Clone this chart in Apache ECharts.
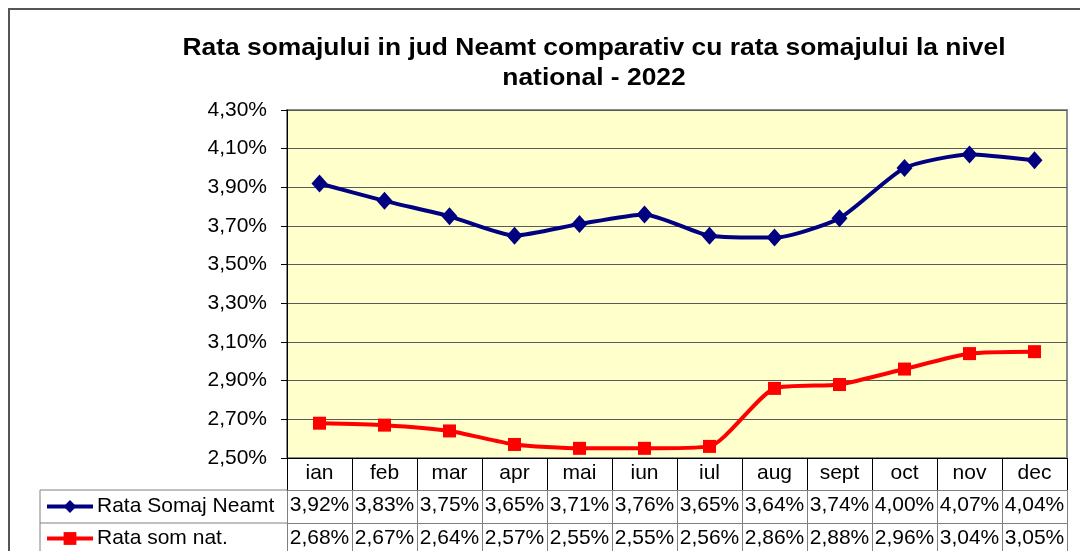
<!DOCTYPE html>
<html>
<head>
<meta charset="utf-8">
<script src="https://cdn.jsdelivr.net/npm/echarts@6/dist/echarts.min.js"></script>
<style>html,body{margin:0;padding:0;background:#fff}#c{width:1080px;height:551px}</style>
</head>
<body>
<div id="c"></div>
<script>
var months = ['ian','feb','mar','apr','mai','iun','iul','aug','sept','oct','nov','dec'];
var neamt = [3.92,3.83,3.75,3.65,3.71,3.76,3.65,3.64,3.74,4.00,4.07,4.04];
var national = [2.68,2.67,2.64,2.57,2.55,2.55,2.56,2.86,2.88,2.96,3.04,3.05];
var seriesNames = ['Rata Somaj Neamt','Rata som nat.'];
var titleText = 'Rata somajului in jud Neamt comparativ cu rata somajului la nivel\nnational - 2022';

var FONT = 'Liberation Sans, Arial, sans-serif';
function pct(v){ return v.toFixed(2).replace('.', ',') + '%'; }

var chart = echarts.init(document.getElementById('c'));
var tableLabel = {fontSize: 21, color: '#000', fontFamily: FONT, margin: 5, interval: 0, hideOverlap: false};
var legendCommon = {orient: 'horizontal', left: 45, padding: 0, itemWidth: 46, itemHeight: 16,
  lineStyle: {width: 4},
  textStyle: {fontSize: 21, color: '#000', fontFamily: FONT, padding: [0,0,0,-1]}};
chart.setOption({
  animation: false,
  backgroundColor: '#fff',
  grid: {left: 287, right: 13, top: 110, bottom: 93, show: true,
         backgroundColor: '#ffffcc', borderColor: '#8c8c8c', borderWidth: 2},
  legend: [
    Object.assign({data: [seriesNames[0]], top: 496}, legendCommon),
    Object.assign({data: [seriesNames[1]], top: 528}, legendCommon)
  ],
  graphic: [
    {type: 'rect', shape: {x: 9, y: 9, width: 1100, height: 600}, style: {fill: 'none', stroke: '#555', lineWidth: 2}, silent: true},
    {type: 'text', x: 594, y: 33, scaleX: 1.1, originX: 0, style: {text: titleText, align: 'center', verticalAlign: 'top',
      font: 'bold 24px ' + FONT, lineHeight: 30, fill: '#000'}},
    {type: 'line', shape: {x1: 40, y1: 490, x2: 287, y2: 490}, style: {stroke: '#808080', lineWidth: 1}},
    {type: 'line', shape: {x1: 40, y1: 523, x2: 287, y2: 523}, style: {stroke: '#808080', lineWidth: 1}},
    {type: 'line', shape: {x1: 40, y1: 490, x2: 40, y2: 560}, style: {stroke: '#808080', lineWidth: 1}}
  ],
  xAxis: [
    {type: 'category', data: months, position: 'bottom', boundaryGap: true,
     axisLine: {lineStyle: {color: '#000', width: 1}},
     axisTick: {show: true, length: 32, interval: 0, lineStyle: {color: '#000'}},
     axisLabel: tableLabel},
    {type: 'category', data: neamt.map(pct), position: 'bottom', offset: 32, boundaryGap: true,
     axisLine: {lineStyle: {color: '#808080', width: 1}},
     axisTick: {show: true, length: 33, interval: 0, lineStyle: {color: '#808080'}},
     axisLabel: tableLabel},
    {type: 'category', data: national.map(pct), position: 'bottom', offset: 65, boundaryGap: true,
     axisLine: {lineStyle: {color: '#808080', width: 1}},
     axisTick: {show: true, length: 40, interval: 0, lineStyle: {color: '#808080'}},
     axisLabel: tableLabel}
  ],
  yAxis: {
    type: 'value', min: 2.5, max: 4.3, interval: 0.2,
    axisLine: {show: true, lineStyle: {color: '#000', width: 1}},
    axisTick: {show: true, length: 6, lineStyle: {color: '#000'}},
    splitLine: {lineStyle: {color: '#5a5a5a', width: 1}},
    axisLabel: {fontSize: 21, color: '#000', fontFamily: FONT, margin: 20, formatter: function(v){ return pct(v); }}
  },
  series: [
    {name: seriesNames[0], type: 'line', data: neamt, xAxisIndex: 0, smooth: 0.2,
     symbol: 'diamond', symbolSize: [16, 18], itemStyle: {color: '#000080'},
     lineStyle: {color: '#000080', width: 4}},
    {name: seriesNames[1], type: 'line', data: national, xAxisIndex: 0, smooth: 0.2,
     symbol: 'rect', symbolSize: 13, itemStyle: {color: '#ff0000'},
     lineStyle: {color: '#ff0000', width: 4}}
  ]
});
</script>
</body>
</html>
